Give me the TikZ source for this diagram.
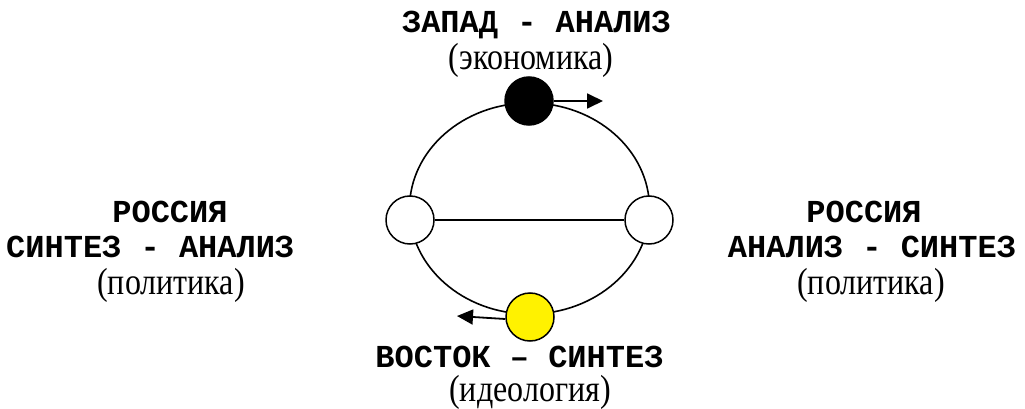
\documentclass[tikz,border=0pt]{standalone}
\usepackage{fontspec}
\usepackage{graphicx}
\setmainfont{Liberation Serif}
\setmonofont{Liberation Mono}
\usetikzlibrary{arrows.meta}
\newcommand{\tall}[1]{\scalebox{1}[1.18]{#1}}
\tikzset{
  dot/.style={circle, draw=black, line width=1.5pt, minimum size=48pt, inner sep=0pt},
  mlabel/.style={anchor=base, inner sep=0pt, font=\fontsize{32}{36}\selectfont\ttfamily\bfseries},
  slabel/.style={anchor=base, inner sep=0pt, font=\fontsize{32}{36}\selectfont},
  arr/.style={line width=1.8pt, -{Triangle[length=16pt,width=15pt]}}
}
\begin{document}
\begin{tikzpicture}[x=1pt,y=-1pt]
\useasboundingbox (0,0) rectangle (1025,409);
% main ring
\draw[line width=1.6pt] (529.5,208.5) ellipse [x radius=120, y radius=105.5];
% nodes
\node[dot, fill=black] (W) at (529,101) {};
\node[dot, fill=white] (L) at (410,220) {};
\node[dot, fill=white] (R) at (649,220) {};
\node[dot, fill=yellow] (E) at (530,317) {};
\draw[line width=1.6pt] (L) -- (R);
% arrows
\coordinate (wa) at (603,101);
\coordinate (ea) at (457,316);
\draw[arr] (W.east) -- (wa);
\draw[arr] ([yshift=-2pt]E.west) -- (ea);
% labels
\node[mlabel] (t1) at (536.5,32.5) {ЗАПАД - АНАЛИЗ};
\node[slabel] (t2) at (531,70) {\tall{(экономика)}};
\node[mlabel] (l1) at (170,222) {РОССИЯ};
\node[mlabel, anchor=base west] (l2) at (6,257) {СИНТЕЗ - АНАЛИЗ};
\node[slabel] (l3) at (171,294) {\tall{(политика)}};
\node[mlabel] (r1) at (864,222) {РОССИЯ};
\node[mlabel] (r2) at (872,257) {АНАЛИЗ - СИНТЕЗ};
\node[slabel] (r3) at (871,294) {\tall{(политика)}};
\node[mlabel] (b1) at (519.5,367) {ВОСТОК – СИНТЕЗ};
\node[slabel] (b2) at (530,401) {\tall{(идеология)}};
\end{tikzpicture}
\end{document}
